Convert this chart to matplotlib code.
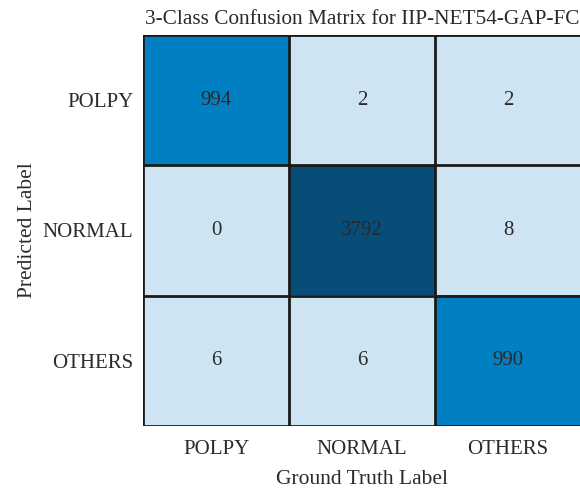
import numpy as np
import matplotlib.pyplot as plt
from matplotlib.colors import ListedColormap, BoundaryNorm

plt.rcParams['font.family'] = ['Liberation Serif', 'DejaVu Serif']

classes = ['POLPY', 'NORMAL', 'OTHERS']
matrix = np.array([
    [994, 2, 2],
    [0, 3792, 8],
    [6, 6, 990],
])

cmap = ListedColormap(['#cfe4f2', '#0080c3', '#074d78'])
norm = BoundaryNorm([0, 100, 2000, 5000], cmap.N)

fig = plt.figure(figsize=(5.8, 4.91), dpi=100)
ax = fig.add_axes([0.2466, 0.1324, 0.755, 0.7963])
ax.imshow(matrix, cmap=cmap, norm=norm, aspect='auto')

n = len(classes)
for i in range(n):
    for j in range(n):
        ax.text(j, i, str(matrix[i, j]), ha='center', va='center',
                fontsize=15, color='#2a2a2a')

for k in range(n + 1):
    ax.axhline(k - 0.5, color='#1a1a1a', lw=2)
    ax.axvline(k - 0.5, color='#1a1a1a', lw=2)

ax.set_xticks(range(n))
ax.set_xticklabels(classes, fontsize=15, color='#2a2a2a')
ax.set_yticks(range(n))
ax.set_yticklabels(classes, fontsize=15, color='#2a2a2a')
ax.tick_params(axis='x', length=0, pad=10)
ax.tick_params(axis='y', length=0, pad=7)
ax.set_xlim(-0.5, n - 0.5)
ax.set_ylim(n - 0.5, -0.5)
for s in ax.spines.values():
    s.set_visible(False)

ax.set_xlabel('Ground Truth Label', fontsize=15.5, color='#2a2a2a', labelpad=8)
ax.set_ylabel('Predicted Label', fontsize=15.5, color='#2a2a2a', labelpad=4)
ax.set_title('3-Class Confusion Matrix for IIP-NET54-GAP-FC', fontsize=15.3,
             color='#2a2a2a', pad=8)

fig.savefig('out.png', dpi=100)
